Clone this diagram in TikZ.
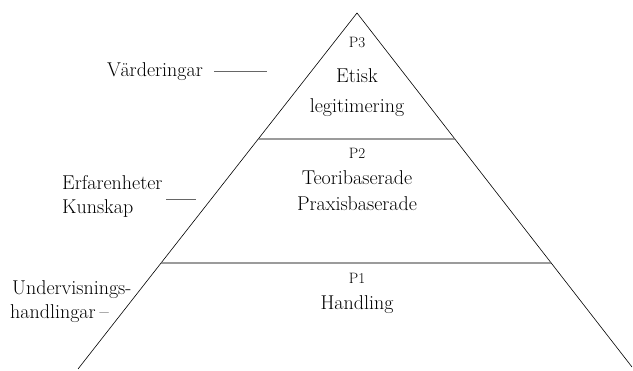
\documentclass[tikz,border=0pt]{standalone}
\usepackage{fontspec}
\usetikzlibrary{calc}
\tikzset{
  lbl/.style={font=\fontsize{20}{24}\selectfont, inner sep=0pt, anchor=base},
  lbll/.style={lbl, anchor=base west},
  plbl/.style={font=\fontsize{15}{17}\selectfont, inner sep=0pt, anchor=base},
  side/.style={draw=black, line width=0.6pt},
  level/.style={draw=black!60, line width=1.2pt},
  tick/.style={draw=black!60, line width=1pt}
}
\begin{document}
\begin{tikzpicture}[x=1pt,y=-1pt]
\useasboundingbox (0,0) rectangle (633,371);
% triangle
\coordinate (apex) at (357,13);
\coordinate (bl) at (78,369);
\coordinate (br) at (632,367);
\draw[side] (bl) -- (apex) -- (br);
% level lines
\coordinate (l1) at ($(apex)!0.3539!(bl)$);
\coordinate (r1) at ($(apex)!0.3559!(br)$);
\coordinate (l2) at ($(apex)!0.7022!(bl)$);
\coordinate (r2) at ($(apex)!0.7062!(br)$);
\draw[level] (l1) -- (r1);
\draw[level] (l2) -- (r2);
% inside texts
\node[plbl] (p3) at (357,48) {P3};
\node[lbl] (etisk) at (357,83) {Etisk};
\node[lbl] (legit) at (357,113) {legitimering};
\node[plbl] (p2) at (357,159) {P2};
\node[lbl] (teori) at (357,185) {Teoribaserade};
\node[lbl] (praxis) at (357,211) {Praxisbaserade};
\node[plbl] (p1) at (357,284) {P1};
\node[lbl] (handl) at (357,310) {Handling};
% left labels
\node[lbll] (vard) at (107,77) {Värderingar};
\coordinate (v1) at (214,72);
\coordinate (v2) at (267,72);
\draw[tick] (v1) -- (v2);
\node[lbll] (erf) at (62,190) {Erfarenheter};
\node[lbll] (kun) at (62,214) {Kunskap};
\coordinate (e1) at (166,200);
\coordinate (e2) at (196,200);
\draw[tick] (e1) -- (e2);
\node[lbll] (und) at (12,295) {Undervisnings-};
\node[lbll] (hand) at (10,319) {handlingar\hspace{0.2em}--};
\end{tikzpicture}
\end{document}
